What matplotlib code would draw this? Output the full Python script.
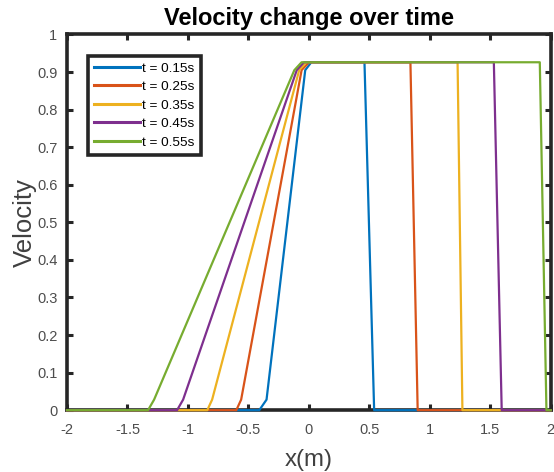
import matplotlib
matplotlib.use('Agg')
import matplotlib.pyplot as plt
import numpy as np

plt.rcParams['font.family'] = ['Liberation Sans', 'DejaVu Sans']

# curve outlines, one per time step
labels = ['t = 0.15s', 't = 0.25s', 't = 0.35s', 't = 0.45s', 't = 0.55s']
colors = ['#0072BD', '#D95319', '#EDB120', '#7E2F8E', '#77AC30']

x_015 = [-2, -0.41, -0.35, -0.03, 0.02, 0.46, 0.54, 2]
x_025 = [-2, -0.60, -0.56, -0.06, 0.00, 0.84, 0.90, 2]
x_035 = [-2, -0.84, -0.80, -0.08, -0.02, 1.23, 1.27, 2]
x_045 = [-2, -1.09, -1.04, -0.10, -0.04, 1.53, 1.595, 2]
x_055 = [-2, -1.33, -1.28, -0.12, -0.06, 1.91, 1.965, 2]
v_profile = [0, 0, 0.028, 0.905, 0.926, 0.926, 0, 0]

xs = [x_015, x_025, x_035, x_045, x_055]

fig = plt.figure(figsize=(5.54, 4.72), dpi=100)
ax = fig.add_axes([0.121, 0.131, 0.873, 0.796])

for x, lab, c in zip(xs, labels, colors):
    ax.plot(x, v_profile, '-', color=c, lw=1.6, label=lab, zorder=3, clip_on=False)

ax.set_xlim(-2, 2)
ax.set_ylim(0, 1)
ax.set_xticks(np.arange(-2, 2.01, 0.5))
ax.set_xticklabels(['-2', '-1.5', '-1', '-0.5', '0', '0.5', '1', '1.5', '2'])
ax.set_yticks(np.arange(0, 1.01, 0.1))
ax.set_yticklabels(['0', '0.1', '0.2', '0.3', '0.4', '0.5', '0.6', '0.7', '0.8', '0.9', '1'])

for s in ax.spines.values():
    s.set_linewidth(2.6)
    s.set_color('#262626')
ax.tick_params(direction='in', length=4, width=2.2, color='#262626',
               top=True, right=True, labelsize=10.5, labelcolor='#4d4d4d')
ax.tick_params(axis='x', pad=9)
ax.tick_params(axis='y', pad=7)

ax.set_title('Velocity change over time', fontsize=17, fontweight='bold', pad=7)
ax.set_xlabel('x(m)', fontsize=17.3, color='#404040', labelpad=9)
ax.set_ylabel('Velocity', fontsize=18.5, color='#404040', labelpad=0)

leg = ax.legend(loc='upper left', bbox_to_anchor=(0.029, 0.96), fontsize=9.7,
                handlelength=3.4, handletextpad=0.2, borderpad=0.45,
                labelspacing=0.45, fancybox=False, framealpha=1)
leg.get_frame().set_edgecolor('#262626')
leg.get_frame().set_linewidth(2.6)
for h in leg.get_lines():
    h.set_linewidth(2.2)

fig.savefig('out.png', dpi=100)
